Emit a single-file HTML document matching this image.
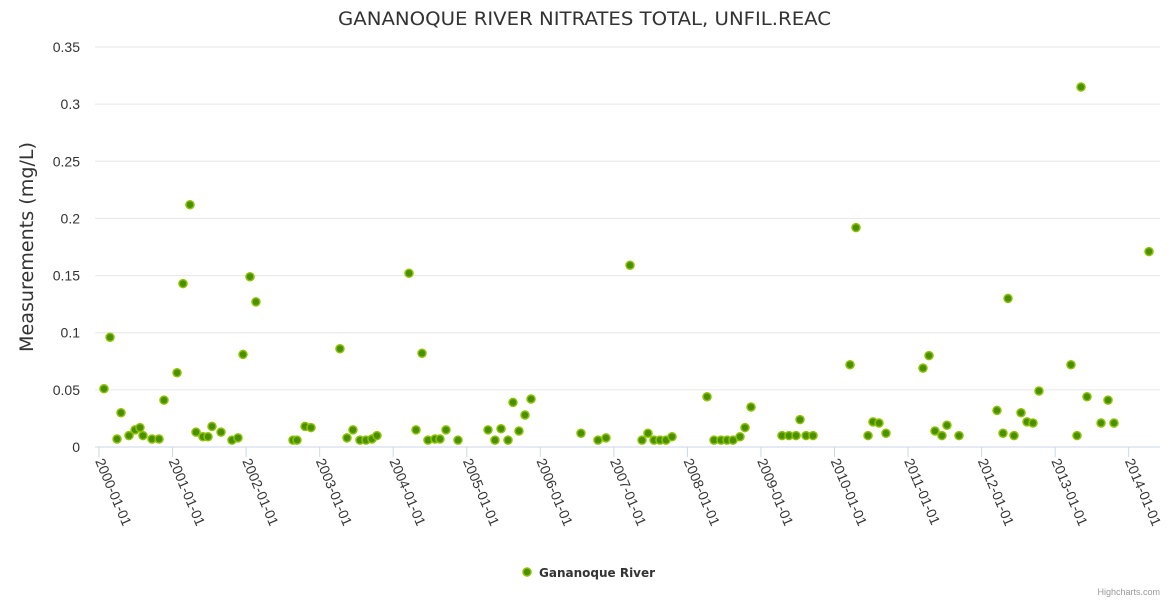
<!DOCTYPE html>
<html><head><meta charset="utf-8"><style>
body{margin:0;background:#fff;font-family:"Liberation Sans",sans-serif;}
svg text{font-family:"Liberation Sans",sans-serif;}
svg text.dv{font-family:"DejaVu Sans",sans-serif;}
</style></head><body>
<svg id="chart" width="1170" height="600">
<text class="dv" x="338" y="25" textLength="493" lengthAdjust="spacingAndGlyphs" font-size="19" fill="#333">GANANOQUE RIVER NITRATES TOTAL, UNFIL.REAC</text>
<text class="dv" transform="translate(33,352) rotate(-90)" textLength="210" lengthAdjust="spacingAndGlyphs" font-size="19" fill="#333">Measurements (mg/L)</text>
<g id="grid"></g><g id="xaxis"></g><g id="points"></g>
<g>
<circle cx="527" cy="572" r="4" fill="#4a8f00" stroke="#8cc300" stroke-width="1.5"/>
<text class="dv" x="539" y="577" font-size="12" font-weight="bold" fill="#333">Gananoque River</text>
</g>
<text x="1160" y="595" text-anchor="end" font-size="9" fill="#999">Highcharts.com</text>
</svg>
<script>
const yTicks=[0,0.05,0.1,0.15,0.2,0.25,0.3,0.35];
const yTickLabels=["0","0.05","0.1","0.15","0.2","0.25","0.3","0.35"];
const xTicks=[2000,2001,2002,2003,2004,2005,2006,2007,2008,2009,2010,2011,2012,2013,2014];
const years=[2000.068,2000.150,2000.245,2000.299,2000.408,2000.490,2000.557,2000.598,2000.721,2000.816,2000.884,2001.061,2001.142,2001.237,2001.319,2001.414,2001.482,2001.536,2001.659,2001.808,2001.890,2001.958,2002.053,2002.134,2002.638,2002.692,2002.801,2002.882,2003.276,2003.372,2003.453,2003.548,2003.630,2003.711,2003.779,2004.215,2004.310,2004.392,2004.473,2004.568,2004.636,2004.718,2004.881,2005.289,2005.384,2005.466,2005.561,2005.629,2005.710,2005.792,2005.874,2006.553,2006.784,2006.893,2007.220,2007.383,2007.464,2007.546,2007.627,2007.709,2007.791,2008.267,2008.362,2008.457,2008.539,2008.620,2008.715,2008.783,2008.865,2009.286,2009.381,2009.477,2009.531,2009.613,2009.708,2010.211,2010.292,2010.456,2010.523,2010.605,2010.700,2011.203,2011.285,2011.366,2011.461,2011.529,2011.693,2012.209,2012.291,2012.359,2012.441,2012.536,2012.617,2012.699,2012.780,2013.215,2013.297,2013.352,2013.433,2013.624,2013.719,2013.800,2014.276];
const values=[0.051,0.096,0.007,0.03,0.01,0.015,0.017,0.01,0.007,0.007,0.041,0.065,0.143,0.212,0.013,0.009,0.009,0.018,0.013,0.006,0.008,0.081,0.149,0.127,0.006,0.006,0.018,0.017,0.086,0.008,0.015,0.006,0.006,0.007,0.01,0.152,0.015,0.082,0.006,0.007,0.007,0.015,0.006,0.015,0.006,0.016,0.006,0.039,0.014,0.028,0.042,0.012,0.006,0.008,0.159,0.006,0.012,0.006,0.006,0.006,0.009,0.044,0.006,0.006,0.006,0.006,0.009,0.017,0.035,0.01,0.01,0.01,0.024,0.01,0.01,0.072,0.192,0.01,0.022,0.021,0.012,0.069,0.08,0.014,0.01,0.019,0.01,0.032,0.012,0.13,0.01,0.03,0.022,0.021,0.049,0.072,0.01,0.315,0.044,0.021,0.041,0.021,0.171];
const NS="http://www.w3.org/2000/svg";
const X=v=>99+(v-2000)*73.55;
const Y=v=>447-v*(400/0.35);
const grid=document.getElementById('grid');
yTicks.forEach((t,i)=>{
  const l=document.createElementNS(NS,'line');
  
  
  l.setAttribute('x1',95);l.setAttribute('x2',1160);l.setAttribute('y1',Y(t));l.setAttribute('y2',Y(t));
  l.setAttribute('stroke',i==0?'#ccd6eb':'#e6e6e6');l.setAttribute('stroke-width',1);
  grid.appendChild(l);
  const tx=document.createElementNS(NS,'text');
  
  
  tx.setAttribute('x',80);tx.setAttribute('y',Y(t)+5);tx.setAttribute('text-anchor','end');
  tx.setAttribute('font-size',14);tx.setAttribute('fill','#333');tx.textContent=yTickLabels[i];
  grid.appendChild(tx);
});
const xa=document.getElementById('xaxis');
xTicks.forEach(t=>{
  const x=X(t);
  const l=document.createElementNS(NS,'line');
  
  
  l.setAttribute('x1',x);l.setAttribute('x2',x);l.setAttribute('y1',447);l.setAttribute('y2',457);
  l.setAttribute('stroke','#ccd6eb');xa.appendChild(l);
  const tx=document.createElementNS(NS,'text');
  
  
  tx.setAttribute('transform','translate('+(x-4)+',461) rotate(67)');
  tx.setAttribute('font-size',14);tx.setAttribute('fill','#333');tx.textContent=t+'-01-01';
  xa.appendChild(tx);
});
const pg=document.getElementById('points');
years.forEach((yr,i)=>{
  const c=document.createElementNS(NS,'circle');
  
  
  c.setAttribute('cx',X(yr));c.setAttribute('cy',Y(values[i]));c.setAttribute('r',4);
  c.setAttribute('fill','#4a8f00');c.setAttribute('stroke','#8cc300');c.setAttribute('stroke-width',1.5);
  pg.appendChild(c);
});
</script>
</body></html>
